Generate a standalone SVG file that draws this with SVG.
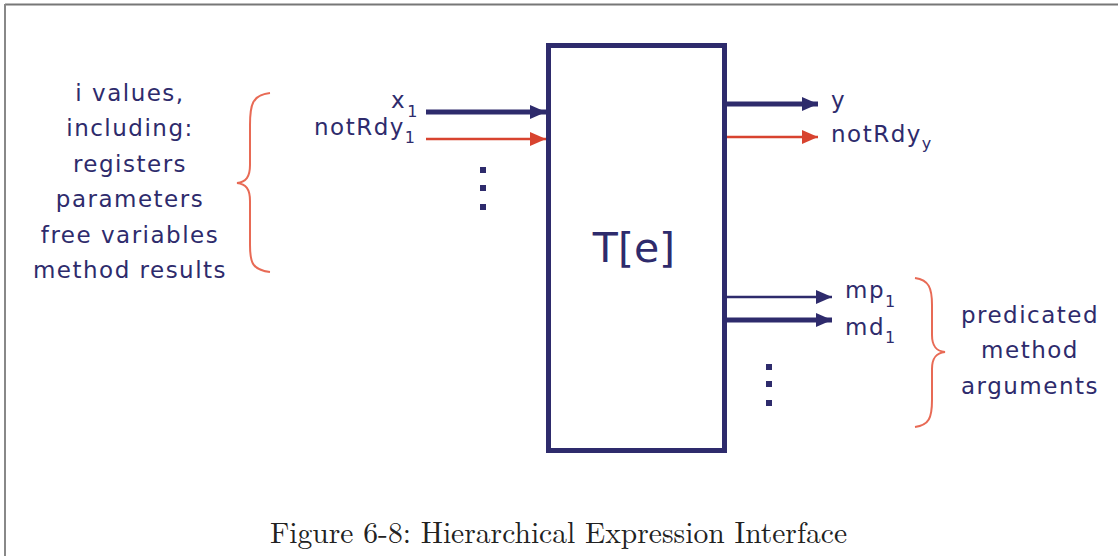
<svg xmlns="http://www.w3.org/2000/svg" width="1118" height="556" viewBox="0 0 1118 556">
<style>
.lbl{font-family:"DejaVu Sans",Verdana,sans-serif;font-size:23px;fill:#2e2b6c;letter-spacing:1.5px}
.sub{font-size:16px;letter-spacing:0}
.big{font-family:"DejaVu Sans",Verdana,sans-serif;font-size:41px;fill:#2e2b6c}
.cap{font-family:"Latin Modern Roman","Liberation Serif",serif;font-size:30px;fill:#222}
.blue{stroke:#2e2b6c;fill:none}
.red{stroke:#d8432f;fill:none}
.brace{stroke:#e86a55;fill:none;stroke-width:2}
.dot{fill:#2e2b6c}
</style>
<defs>
<marker id="hb" markerUnits="userSpaceOnUse" markerWidth="16" markerHeight="16" refX="16" refY="8" orient="auto" viewBox="0 0 16 16"><path d="M0,1 L16,8 L0,15 Z" fill="#2e2b6c"/></marker>
<marker id="hr" markerUnits="userSpaceOnUse" markerWidth="16" markerHeight="16" refX="16" refY="8" orient="auto" viewBox="0 0 16 16"><path d="M0,1 L16,8 L0,15 Z" fill="#d8432f"/></marker>
</defs>
<rect width="1118" height="556" fill="#fff"/>
<g id="frame">
<line x1="5" y1="4.5" x2="1118" y2="4.5" stroke="#777" stroke-width="2"/>
<line x1="5" y1="4" x2="5" y2="556" stroke="#888" stroke-width="2"/>
</g>
<g id="expr">
<rect x="548.5" y="45.5" width="176" height="405" fill="#fff" stroke="#2e2b6c" stroke-width="5"/>
<text class="big" x="634" y="262" text-anchor="middle">T[e]</text>
</g>
<g id="connectors">
<line class="blue" x1="426" y1="112" x2="546" y2="112" stroke-width="5" marker-end="url(#hb)"/>
<line class="red" x1="426" y1="139" x2="546" y2="139" stroke-width="2.5" marker-end="url(#hr)"/>
<line class="blue" x1="727" y1="104" x2="818" y2="104" stroke-width="5" marker-end="url(#hb)"/>
<line class="red" x1="727" y1="137" x2="818" y2="137" stroke-width="2.5" marker-end="url(#hr)"/>
<line class="blue" x1="727" y1="297" x2="832" y2="297" stroke-width="2.5" marker-end="url(#hb)"/>
<line class="blue" x1="727" y1="320" x2="832" y2="320" stroke-width="5" marker-end="url(#hb)"/>
</g>
<g id="inputs">
<text class="lbl" x="391" y="108">x<tspan class="sub" dx="1" dy="9">1</tspan></text>
<text class="lbl" x="314" y="135">notRdy<tspan class="sub" dx="0" dy="8">1</tspan></text>
<rect class="dot" x="480" y="167" width="6" height="6"/>
<rect class="dot" x="480" y="185" width="6" height="6"/>
<rect class="dot" x="480" y="204" width="6" height="6"/>
</g>
<g id="outputs">
<text class="lbl" x="831" y="108">y</text>
<text class="lbl" x="831" y="142">notRdy<tspan class="sub" dx="0" dy="7">y</tspan></text>
<text class="lbl" x="845" y="298">mp<tspan class="sub" dx="0" dy="9">1</tspan></text>
<text class="lbl" x="845" y="335">md<tspan class="sub" dx="0" dy="8">1</tspan></text>
<rect class="dot" x="766" y="364" width="6" height="6"/>
<rect class="dot" x="766" y="381" width="6" height="6"/>
<rect class="dot" x="766" y="400" width="6" height="6"/>
</g>
<g id="input-note">
<path class="brace" d="M270,93 C252,95 250,105 250,125 L250,165 C250,177 246,182 237,183 C246,184 250,189 250,201 L250,245 C250,262 252,270 270,272"/>
<text class="lbl" text-anchor="middle" x="130" y="101">i values,</text>
<text class="lbl" text-anchor="middle" x="130" y="136">including:</text>
<text class="lbl" text-anchor="middle" x="130" y="172">registers</text>
<text class="lbl" text-anchor="middle" x="130" y="207">parameters</text>
<text class="lbl" text-anchor="middle" x="130" y="243">free variables</text>
<text class="lbl" text-anchor="middle" x="130" y="278">method results</text>
</g>
<g id="output-note">
<path class="brace" d="M915,278 C929,280 932,288 932,305 L932,335 C932,346 936,351 945,352 C936,353 932,358 932,369 L932,400 C932,418 929,425 915,427"/>
<text class="lbl" text-anchor="middle" x="1030" y="323">predicated</text>
<text class="lbl" text-anchor="middle" x="1030" y="358">method</text>
<text class="lbl" text-anchor="middle" x="1030" y="394">arguments</text>
</g>
<text class="cap" x="270" y="543" textLength="577" lengthAdjust="spacingAndGlyphs">Figure 6-8: Hierarchical Expression Interface</text>
</svg>
